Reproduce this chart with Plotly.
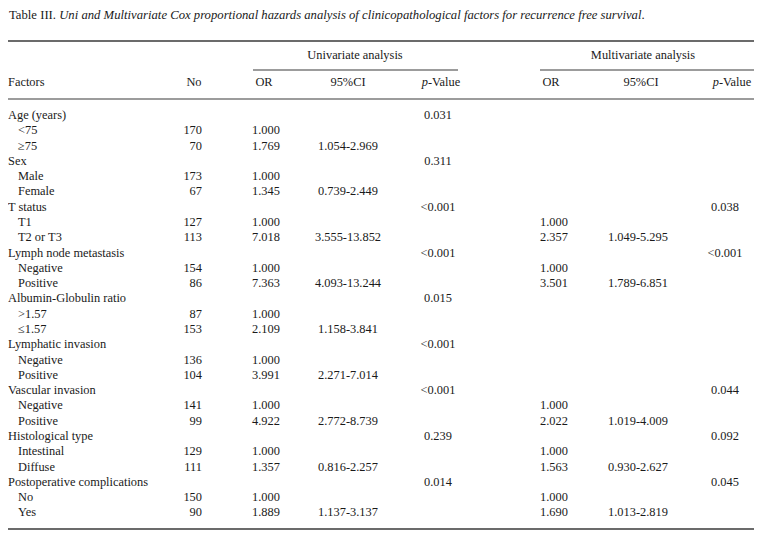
import plotly.graph_objects as go

# table content
groups = ["Age (years)", "Sex", "T status", "Lymph node metastasis",
          "Albumin-Globulin ratio", "Lymphatic invasion", "Vascular invasion",
          "Histological type", "Postoperative complications"]
levels = [["<75", "≥75"], ["Male", "Female"], ["T1", "T2 or T3"],
          ["Negative", "Positive"], [">1.57", "≤1.57"], ["Negative", "Positive"],
          ["Negative", "Positive"], ["Intestinal", "Diffuse"], ["No", "Yes"]]
counts = [[170, 70], [173, 67], [127, 113], [154, 86], [87, 153],
          [136, 104], [141, 99], [129, 111], [150, 90]]

uni_or = [1.769, 1.345, 7.018, 7.363, 2.109, 3.991, 4.922, 1.357, 1.889]
uni_ci = ["1.054-2.969", "0.739-2.449", "3.555-13.852", "4.093-13.244",
          "1.158-3.841", "2.271-7.014", "2.772-8.739", "0.816-2.257",
          "1.137-3.137"]
uni_p = ["0.031", "0.311", "<0.001", "<0.001", "0.015", "<0.001", "<0.001",
         "0.239", "0.014"]

# multivariate only for some factors (None = not in model)
multi_or = [None, None, 2.357, 3.501, None, None, 2.022, 1.563, 1.690]
multi_ci = [None, None, "1.049-5.295", "1.789-6.851", None, None,
            "1.019-4.009", "0.930-2.627", "1.013-2.819"]
multi_p = [None, None, "0.038", "<0.001", None, None, "0.044", "0.092", "0.045"]

FONT = "Liberation Serif"
INK = "#1a1a1a"
FS = 12.4
ROW0, ROWH = 116, 15.28

# flatten into rows
lab_x, lab_y, lab_t = [], [], []
cols = {k: ([], []) for k in ["n", "uor", "uci", "up", "mor", "mci", "mp"]}


def put(key, y, txt):
    cols[key][0].append(y)
    cols[key][1].append(txt)


r = 0
for g, name in enumerate(groups):
    y = ROW0 + r * ROWH
    lab_x.append(8); lab_y.append(y); lab_t.append(name)
    put("up", y, uni_p[g])
    if multi_p[g]:
        put("mp", y, multi_p[g])
    r += 1
    for j, lv in enumerate(levels[g]):
        y = ROW0 + r * ROWH
        lab_x.append(18); lab_y.append(y); lab_t.append(lv)
        put("n", y, str(counts[g][j]))
        put("uor", y, "1.000" if j == 0 else f"{uni_or[g]:.3f}")
        if j == 1:
            put("uci", y, uni_ci[g])
        if multi_or[g] is not None:
            put("mor", y, "1.000" if j == 0 else f"{multi_or[g]:.3f}")
            if j == 1:
                put("mci", y, multi_ci[g])
        r += 1

fig = go.Figure()


def text_col(x, ys, txts, pos):
    fig.add_trace(go.Scatter(
        x=[x] * len(ys) if not isinstance(x, list) else x, y=ys, text=txts,
        mode="text", textposition=pos, hoverinfo="skip",
        textfont=dict(family=FONT, size=FS, color=INK)))


text_col(lab_x, lab_y, lab_t, "middle right")
text_col(202, *cols["n"], "middle left")
text_col(266, *cols["uor"], "middle center")
text_col(348, *cols["uci"], "middle center")
text_col(438, *cols["up"], "middle center")
text_col(554, *cols["mor"], "middle center")
text_col(638, *cols["mci"], "middle center")
text_col(725, *cols["mp"], "middle center")

# headers
hdr_y = 83
text_col([8], [hdr_y], ["Factors"], "middle right")
text_col([194, 264, 348, 441, 551, 641, 732], [hdr_y] * 7,
         ["No", "OR", "95%CI", "<i>p</i>-Value", "OR", "95%CI", "<i>p</i>-Value"],
         "middle center")
text_col([355, 643], [56, 56], ["Univariate analysis", "Multivariate analysis"],
         "middle center")

# horizontal rules
rules = [(8, 754, 41, 1.5), (253, 458, 70, 1.2), (540, 754, 70, 1.2),
         (8, 754, 99, 1.2), (8, 754, 529, 1.5)]
for x0, x1, y, w in rules:
    fig.add_trace(go.Scatter(x=[x0, x1], y=[y, y], mode="lines",
                             hoverinfo="skip",
                             line=dict(color="#3a3a3a", width=w)))

# title (left-anchored at the edge of the x range)
fig.add_annotation(
    x=8, y=15, xref="x", yref="y", xanchor="left", yanchor="middle",
    showarrow=False, borderpad=0,
    text="Table III. <i>Uni and Multivariate Cox proportional hazards analysis "
         "of clinicopathological factors for recurrence free survival</i>.",
    font=dict(family=FONT, size=12.7, color=INK))

# page body has an 8px margin, so offset the ranges to keep pixel positions
fig.update_layout(
    width=746, height=527, margin=dict(l=0, r=0, t=0, b=0),
    paper_bgcolor="white", plot_bgcolor="white", showlegend=False,
    xaxis=dict(range=[8, 754], visible=False, fixedrange=True),
    yaxis=dict(range=[535, 8], visible=False, fixedrange=True))

fig.write_html("out.html")
